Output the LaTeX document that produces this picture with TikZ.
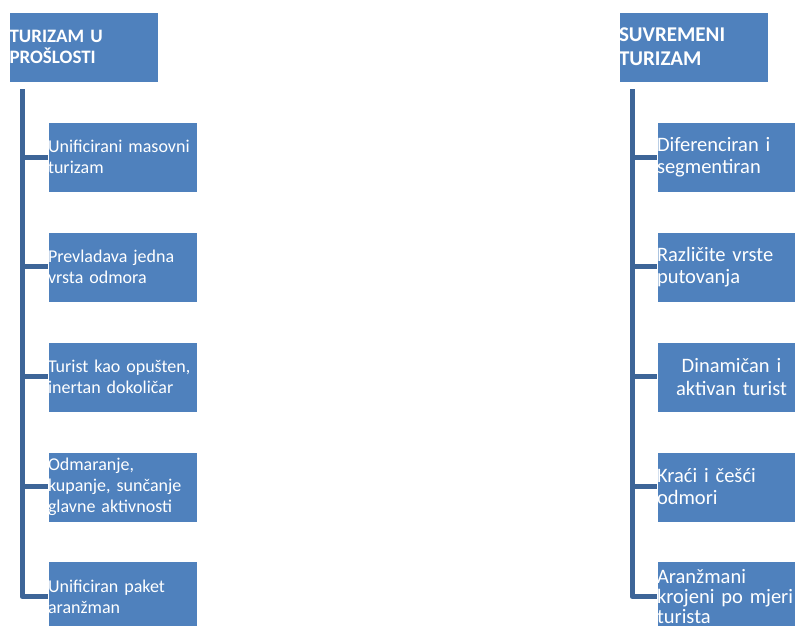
\documentclass[tikz,border=0pt]{standalone}
\usepackage{fontspec}
\setmainfont{Carlito}
\usetikzlibrary{positioning}
\definecolor{plava}{HTML}{4F81BD}
\definecolor{tamna}{HTML}{3D6598}
\tikzset{
	kutija/.style={fill=plava,draw=white,line width=0.4pt,text=white,
		minimum width=149pt,minimum height=70pt,text width=149pt,
		inner xsep=0pt,inner ysep=0pt,align=left,
		font=\fontsize{18}{21}\selectfont},
	naslov/.style={kutija,font=\fontsize{19}{21}\selectfont\bfseries},
	desno/.style={font=\fontsize{20.5}{22.5}\selectfont},
	grana/.style={draw=tamna,line width=5pt,line join=round}
}

\begin{document}
\begin{tikzpicture}[x=1pt,y=-1pt]
	\useasboundingbox (0,0) rectangle (795,626);
	\clip (0,0) rectangle (795,626);
	% lijeva strana
	\node[naslov] (hl) at (84,47) {TURIZAM U\\PROŠLOSTI};
	\node[kutija] (l1) at (122.5,157) {Unificirani masovni\\turizam};
	\node[kutija,below=39.5pt of l1] (l2) {Prevladava jedna\\vrsta odmora};
	\node[kutija,below=39.5pt of l2] (l3) {Turist kao opušten,\\inertan dokoličar};
	\node[kutija,below=39.5pt of l3] (l4) {Odmaranje,\\kupanje, sunčanje\\glavne aktivnosti};
	\node[kutija,below=39.5pt of l4] (l5) {Unificiran paket\\aranžman};
	% desna strana
	\node[naslov,font=\fontsize{21}{24}\selectfont\bfseries] (hr) at (693.5,47) {SUVREMENI\\TURIZAM};
	\node[kutija,desno] (r1) at (731.5,157) {Diferenciran i\\segmentiran};
	\node[kutija,desno,below=39.5pt of r1] (r2) {Različite vrste\\putovanja};
	\node[kutija,desno,below=39.5pt of r2,align=center] (r3) {Dinamičan i\\aktivan turist};
	\node[kutija,desno,below=39.5pt of r3] (r4) {Kraći i češći\\odmori};
	\node[kutija,below=39.5pt of r4,font=\fontsize{20.5}{20}\selectfont] (r5) {Aranžmani\\krojeni po mjeri\\turista};
	% veze
	\coordinate (tl) at (22,89);
	\coordinate (tr) at (632,89);
	\draw[grana] (tl) |- (l5.west);
	\draw[grana] (tr) |- (r5.west);
	\foreach \i in {1,...,4}{
		\draw[grana] (tl |- l\i.west) -- (l\i.west);
		\draw[grana] (tr |- r\i.west) -- (r\i.west);
	}
\end{tikzpicture}
\end{document}
